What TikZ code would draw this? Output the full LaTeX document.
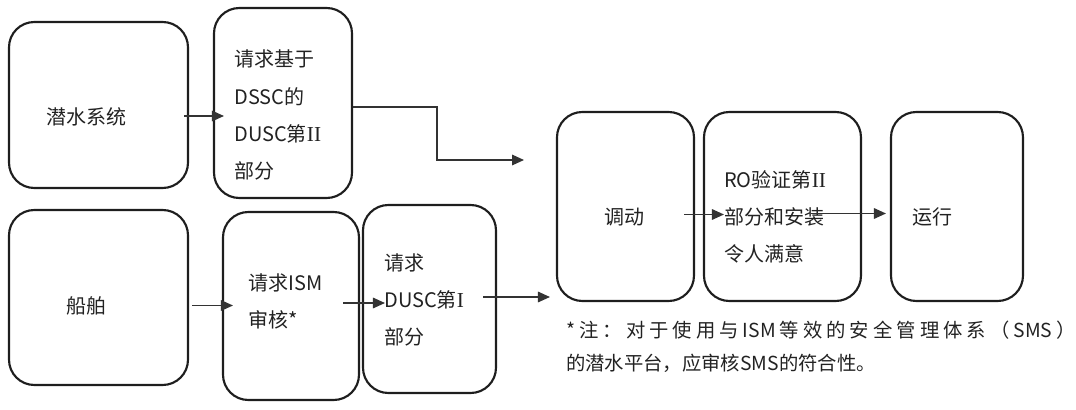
\documentclass[tikz,border=0pt]{standalone}
\usepackage{fontspec}
\setmainfont{Noto Sans CJK SC}
\newfontfamily\romfont{Liberation Serif}
\usetikzlibrary{arrows.meta,calc,fit}
\definecolor{ink}{HTML}{1E1E1E}
\definecolor{txt}{HTML}{222222}
\definecolor{wire}{HTML}{333333}
\newcommand{\RomII}{{\romfont\fontsize{16}{27.8}\selectfont II}}
\newcommand{\RomI}{{\romfont\fontsize{16}{27.8}\selectfont I}}
\begin{document}
\begin{tikzpicture}[x=0.75pt,y=-0.75pt,
  box/.style={draw=ink,line width=1.6pt,rounded corners=19pt,inner sep=0pt,fill=none},
  lbl/.style={inner sep=0pt,text=txt,align=left,font={\fontsize{15}{27.8}\selectfont}},
  note/.style={inner sep=0pt,text=txt,align=left,font={\fontsize{14.5}{24.5}\selectfont}},
  conn/.style={draw=wire,line width=0.9pt,-{Triangle[length=9pt,width=8pt]}}]
\useasboundingbox (0,0) rectangle (1076,410);
% boxes
\node[box,fit={(9,22) (188,188)}] (b1) {};
\node[box,fit={(214,8) (352,198)}] (b2) {};
\node[box,fit={(9,210) (188,385)}] (b3) {};
\node[box,fit={(223,212) (359,400)}] (b4) {};
\node[box,fit={(363,205) (496,393)}] (b5) {};
\node[box,fit={(557,112) (694,301)}] (b6) {};
\node[box,fit={(704,112) (861,301)}] (b7) {};
\node[box,fit={(891,112) (1023,301)}] (b8) {};
% texts
\node[lbl,anchor=west] (t1) at (46,117) {潜水系统};
\node[lbl,anchor=west] (t2) at (234,115) {请求基于\\DSSC的\\DUSC第\RomII\\部分};
\node[lbl,anchor=west] (t3) at (66,306) {船舶};
\node[lbl,anchor=west] (t4) at (248,301) {请求ISM\\审核*};
\node[lbl,anchor=west] (t5) at (384,300) {请求\\DUSC第\RomI\\部分};
\node[lbl,anchor=west] (t6) at (604,217) {调动};
\node[lbl,anchor=west] (t7) at (724,217) {RO验证第\RomII\\部分和安装\\令人满意};
\node[lbl,anchor=west] (t8) at (912,217) {运行};
\node[note,anchor=west] (t9) at (566,347) {\makebox[382pt][s]{*\hfil 注\hfil ：\hfil 对\hfil 于\hfil 使\hfil 用\hfil 与\hfil ISM\hfil 等\hfil 效\hfil 的\hfil 安\hfil 全\hfil 管\hfil 理\hfil 体\hfil 系\hfil （\hfil SMS\hfil ）}\\的潜水平台，应审核SMS的符合性。};
% connectors
\coordinate (c1s) at ($(b1.east)+(-5,11)$);
\coordinate (c1e) at ($(b2.west)+(11,0)$);
\draw[conn] (c1s) -- (c1s -| c1e);
\coordinate (c2s) at ($(b3.east)+(3,8)$);
\coordinate (c2e) at ($(b4.west)+(11,0)$);
\draw[conn] (c2s) -- (c2s -| c2e);
\coordinate (c3s) at ($(b4.east)+(-17,-3)$);
\coordinate (c3e) at ($(b5.west)+(23,0)$);
\draw[conn] (c3s) -- (c3s -| c3e);
\coordinate (c4s) at ($(b5.east)+(-14,-2)$);
\coordinate (c4e) at ($(b6.west)+(-6,0)$);
\draw[conn] (c4s) -- (c4s -| c4e);
\coordinate (c5s) at ($(b6.east)+(-11,8)$);
\coordinate (c5e) at ($(b7.west)+(21,0)$);
\draw[conn] (c5s) -- (c5s -| c5e);
\coordinate (c6s) at ($(b7.east)+(-51,7)$);
\coordinate (c6e) at ($(b8.west)+(-4,0)$);
\draw[conn] (c6s) -- (c6s -| c6e);
\coordinate (c7s) at ($(b2.east)+(0,4)$);
\coordinate (c7e) at (524,160);
\draw[conn] (c7s) -| (437,160) -- (c7e);
\end{tikzpicture}
\end{document}
